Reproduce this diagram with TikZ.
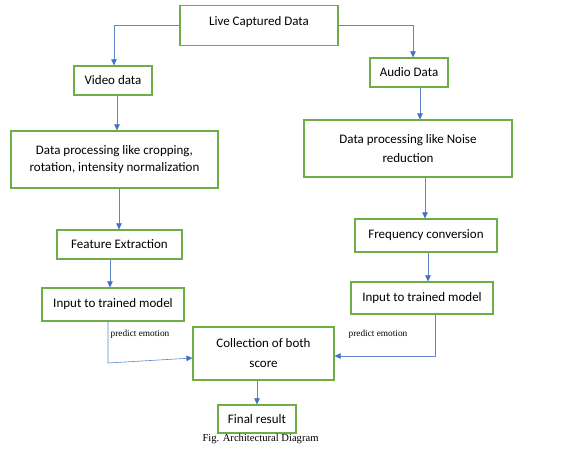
\documentclass[tikz,border=0pt]{standalone}
\usepackage{fontspec}
\setmainfont{Carlito}
\newfontfamily\seriffam{Liberation Serif}
\usetikzlibrary{arrows.meta}
\definecolor{boxgreen}{HTML}{70AD47}
\definecolor{arrowblue}{HTML}{4472C4}
\begin{document}
\begin{tikzpicture}[x=1pt,y=-1pt,
  box/.style={draw=boxgreen, line width=1.2pt, fill=white, inner sep=0pt, align=center,
              font=\fontsize{13}{17}\selectfont},
  conn/.style={draw=arrowblue!85, line width=0.6pt,
               -{Triangle[length=6pt,width=5.5pt,color=arrowblue,fill=arrowblue]}},
  lbl/.style={font=\seriffam\fontsize{9.3}{10}\selectfont, inner sep=0pt},
  captext/.style={font=\seriffam\fontsize{10.6}{12}\selectfont, inner sep=0pt},
]
\useasboundingbox (0,0) rectangle (563,453);
\fill[white] (0,0) rectangle (563,453);

% boxes
\node[box, anchor=north, minimum width=158pt, text height=19.5pt, text depth=20.5pt] (live) at (259,5) {Live Captured Data};
\node[box, minimum width=78pt, minimum height=29pt] (video) at (113,80.5) {Video data};
\node[box, minimum width=78pt, minimum height=29pt] (audio) at (409,72.5) {Audio Data};
\node[box, minimum width=207pt, minimum height=57pt] (dpl) at (114.5,159.5) {Data processing like cropping,\\rotation, intensity normalization};
\node[box, minimum width=208pt, minimum height=57pt, font=\fontsize{13}{19}\selectfont] (dpr) at (408,148.5) {Data processing like Noise\\reduction};
\node[box, minimum width=125pt, minimum height=29pt] (fe) at (119.5,244.5) {Feature Extraction};
\node[box, minimum width=142pt, minimum height=33pt] (inl) at (113,304.5) {Input to trained model};
\node[box, minimum width=142pt, minimum height=33pt] (freq) at (426,235.5) {Frequency conversion};
\node[box, minimum width=142pt, minimum height=32pt] (inr) at (422,298) {Input to trained model};
\node[box, minimum width=141pt, minimum height=53pt, font=\fontsize{13}{20}\selectfont] (coll) at (263.5,353.5) {Collection of both\\score};
\node[box, minimum width=78pt, minimum height=28pt] (final) at (257,419) {Final result};

% connectors
\draw[conn] (live.west) -| (video.north -| 114,0);
\draw[conn] (live.east) -| (audio.north -| 413,0);
\draw[conn] (video.south -| 117,0) -- (dpl.north -| 117,0);
\draw[conn] (audio.south -| 420,0) -- (dpr.north -| 420,0);
\draw[conn] (dpl.south -| 119,0) -- (fe.north -| 119,0);
\draw[conn] (dpr.south -| 425,0) -- (freq.north -| 425,0);
\draw[conn] (fe.south -| 110,0) -- (inl.north -| 110,0);
\draw[conn] (freq.south -| 428,0) -- (inr.north -| 428,0);
\coordinate (lbend) at (108,363);
\coordinate (rbend) at (435,356);
\draw[conn] (inl.south -| lbend) -- (lbend) -- (coll.west |- 0,358);
\draw[conn] (inr.south -| rbend) -- (rbend) -- (coll.east |- rbend);
\draw[conn] (coll.south -| final.north) -- (final.north);

% labels
\node[lbl] (pl) at (140,334) {predict emotion};
\node[lbl] (pr) at (378,334) {predict emotion};
\node[captext] (caption) at (260.5,439) {Fig. Architectural Diagram};
\end{tikzpicture}
\end{document}
